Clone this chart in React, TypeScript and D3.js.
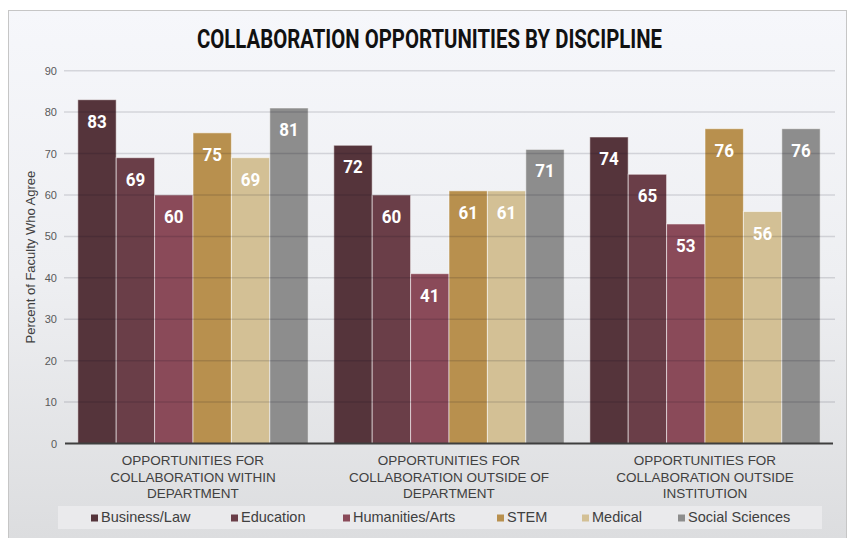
import React from "react";
import * as d3 from "d3";

const categories = [
  ["OPPORTUNITIES FOR", "COLLABORATION WITHIN", "DEPARTMENT"],
  ["OPPORTUNITIES FOR", "COLLABORATION OUTSIDE OF", "DEPARTMENT"],
  ["OPPORTUNITIES FOR", "COLLABORATION OUTSIDE", "INSTITUTION"],
];
const categoryKeys = ["within", "outsideDept", "outsideInst"];
const seriesNames = ["Business/Law", "Education", "Humanities/Arts", "STEM", "Medical", "Social Sciences"];
const seriesColors = ["#55343b", "#6a3e48", "#8a4a59", "#b8904e", "#d3c095", "#8d8d8d"];
const businessLaw = [83, 72, 74];
const education = [69, 60, 65];
const humanitiesArts = [60, 41, 53];
const stem = [75, 61, 76];
const medical = [69, 61, 56];
const socialSciences = [81, 71, 76];
const seriesValues = [businessLaw, education, humanitiesArts, stem, medical, socialSciences];
const yTicks = [0, 10, 20, 30, 40, 50, 60, 70, 80, 90];
const legendX = [91, 231, 343, 497, 582, 678];

export default function App() {
  const W = 849, H = 538;
  const left = 65, right = 833, top = 70.7, bottom = 443.5;
  const x0 = d3.scaleBand<string>().domain(categoryKeys).range([left, right]).paddingInner(0.1).paddingOuter(0.05);
  const x1 = d3.scaleBand<string>().domain(seriesNames).range([0, x0.bandwidth()]).padding(0);
  const y = d3.scaleLinear().domain([0, 90]).range([bottom, top]);

  return (
    <svg width={W} height={H} style={{ position: "absolute", left: 0, top: 0 }} xmlns="http://www.w3.org/2000/svg">
      <defs>
        <linearGradient id="bg" x1="0" y1="0" x2="0" y2="1">
          <stop offset="0" stopColor="#f6f7fb" />
          <stop offset="0.5" stopColor="#eeeff2" />
          <stop offset="1" stopColor="#dcdddf" />
        </linearGradient>
      </defs>
      <rect x={0} y={0} width={W} height={H} fill="#ffffff" />
      <rect x={8.5} y={10.5} width={838} height={528} fill="url(#bg)" stroke="#c6c6c6" strokeWidth={1} />
      <text x={429.5} y={48.3} textAnchor="middle" fontFamily="Roboto, 'Liberation Sans', sans-serif" fontWeight={700} fontSize={25} fill="#111" textLength={465} lengthAdjust="spacingAndGlyphs">
        COLLABORATION OPPORTUNITIES BY DISCIPLINE
      </text>
      {/* bars */}
      {categoryKeys.map((c, ci) => (
        <g key={c} transform={`translate(${x0(c)},0)`}>
          {seriesNames.map((s, si) => {
            const v = seriesValues[si][ci];
            const bx = x1(s)!;
            return (
              <rect key={s} x={bx} y={y(v)} width={x1.bandwidth()} height={bottom - y(v)} fill={seriesColors[si]} stroke="rgba(255,255,255,0.55)" strokeWidth={1} />
            );
          })}
        </g>
      ))}
      {/* gridlines over bars */}
      {yTicks.filter((t) => t > 0).map((t) => (
        <line key={t} x1={left - 1} x2={835} y1={y(t)} y2={y(t)} stroke="rgba(0,0,20,0.13)" strokeWidth={1.5} />
      ))}
      {yTicks.map((t) => (
        <text key={t} x={57} y={y(t) + 4} textAnchor="end" fontFamily="'Liberation Sans', Arial, sans-serif" fontSize={11} fill="#595959">
          {t}
        </text>
      ))}
      <line x1={left} x2={right} y1={bottom} y2={bottom} stroke="#3f3f3f" strokeWidth={2} />
      {/* value labels */}
      {categoryKeys.map((c, ci) => (
        <g key={c + "l"} transform={`translate(${x0(c)},0)`}>
          {seriesNames.map((s, si) => {
            const v = seriesValues[si][ci];
            return (
              <text key={s} x={x1(s)! + x1.bandwidth() / 2} y={y(v) + 28} textAnchor="middle" fontFamily="Roboto, 'Liberation Sans', sans-serif" fontWeight={700} fontSize={19} fill="#ffffff" textLength={19.5} lengthAdjust="spacingAndGlyphs">
                {v}
              </text>
            );
          })}
        </g>
      ))}
      {/* category labels */}
      {categoryKeys.map((c, ci) => (
        <text key={c + "c"} textAnchor="middle" fontFamily="'Liberation Sans', Arial, sans-serif" fontSize={13.5} fill="#404040">
          {categories[ci].map((line, li) => (
            <tspan key={li} x={x0(c)! + x0.bandwidth() / 2} y={464.7 + li * 16.8}>
              {line}
            </tspan>
          ))}
        </text>
      ))}
      <text transform={`translate(35,${(top + bottom) / 2}) rotate(-90)`} textAnchor="middle" fontFamily="'Liberation Sans', Arial, sans-serif" fontSize={13} fill="#404040">
        Percent of Faculty Who Agree
      </text>
      {/* legend */}
      <rect x={58} y={506} width={764} height={23} fill="#eaeaec" />
      {seriesNames.map((s, si) => (
        <g key={s + "lg"}>
          <rect x={legendX[si]} y={514.5} width={7} height={7} fill={seriesColors[si]} />
          <text x={legendX[si] + 10} y={521.7} fontFamily="'Liberation Sans', Arial, sans-serif" fontSize={14.5} fill="#404040">
            {s}
          </text>
        </g>
      ))}
    </svg>
  );
}
